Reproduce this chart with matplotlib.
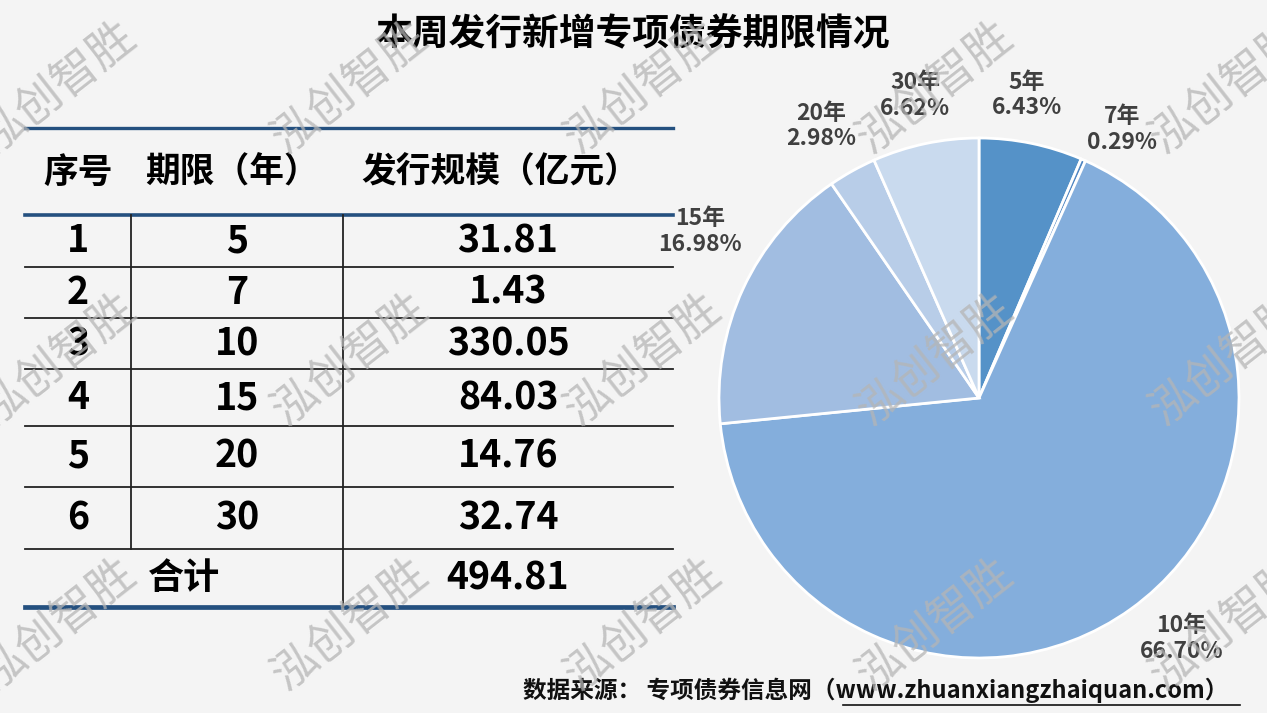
import numpy as np
import matplotlib.pyplot as plt

plt.rcParams['font.family'] = ['Noto Sans CJK SC', 'DejaVu Sans']

W, H = 1267, 713

# data
seq = ["1", "2", "3", "4", "5", "6"]
terms = [5, 7, 10, 15, 20, 30]
amounts = [31.81, 1.43, 330.05, 84.03, 14.76, 32.74]
total = 494.81
headers = ["序号", "期限（年）", "发行规模（亿元）"]
pie_colors = ['#5592C8', '#4F86C2', '#84AEDC', '#A1BDE1', '#B8CDE8', '#C9DAEE']

fig = plt.figure(figsize=(W / 100, H / 100), dpi=100)
fig.patch.set_facecolor('#F4F4F4')

# table drawn on a full-figure axes in pixel units
ax = fig.add_axes([0, 0, 1, 1])
ax.set_xlim(0, W)
ax.set_ylim(H, 0)
ax.axis('off')

x0, x1, x2, x3 = 25, 131, 343, 673
blue = '#24507F'
row_lines = [215, 267, 318, 369, 426, 487, 549, 607]

ax.plot([x0, x3], [128, 128], color=blue, lw=2.4)
ax.plot([x0, x3], [215, 215], color=blue, lw=2.6)
ax.plot([x0, x3], [607, 607], color=blue, lw=3.4)
for y in row_lines[1:-1]:
    ax.plot([x0, x3], [y, y], color='#222222', lw=1.3)
ax.plot([x1, x1], [215, 549], color='#222222', lw=1.3)
ax.plot([x2, x2], [215, 607], color='#222222', lw=1.3)

hdr_x = [78, 232, 500]
for hx, h in zip(hdr_x, headers):
    ax.text(hx, 172, h, ha='center', va='center', fontsize=25,
            fontweight='bold', color='black')

col_x = [78, 237, 508]
fs = 27
for i in range(len(seq)):
    yc = (row_lines[i] + row_lines[i + 1]) / 2
    ax.text(col_x[0], yc, seq[i], ha='center', va='center', fontsize=fs,
            fontweight='bold')
    ax.text(col_x[1], yc, str(terms[i]), ha='center', va='center', fontsize=fs,
            fontweight='bold')
    ax.text(col_x[2], yc, f"{amounts[i]:.2f}", ha='center', va='center',
            fontsize=fs, fontweight='bold')
yc = (row_lines[-2] + row_lines[-1]) / 2
ax.text(184, yc, "合计", ha='center', va='center', fontsize=fs - 1, fontweight='bold')
ax.text(col_x[2], yc, f"{total:.2f}", ha='center', va='center', fontsize=fs,
        fontweight='bold')

# title
ax.text(632, 35, "本周发行新增专项债券期限情况", ha='center', va='center',
        fontsize=26.5, fontweight='bold', color='black')

# source
ax.text(1228, 690, "数据来源： 专项债券信息网（www.zhuanxiangzhaiquan.com）",
        ha='right', va='center', fontsize=17, fontweight='bold', color='#111111')
ax.plot([843, 1240], [705, 705], color='#111111', lw=1.2)

# pie
cx, cy, r = 979, 398, 260
pax = fig.add_axes([(cx - r) / W, (H - cy - r) / H, 2 * r / W, 2 * r / H])
pct = [a / sum(amounts) * 100 for a in amounts]
labels = [f"{t}年\n{p:.2f}%" for t, p in zip(terms, pct)]
wedges, texts = pax.pie(amounts, colors=pie_colors, startangle=90,
                        counterclock=False, labels=labels, labeldistance=1.19,
                        wedgeprops=dict(edgecolor='white', linewidth=2),
                        textprops=dict(fontsize=16.5, fontweight='bold',
                                       color='#404040', linespacing=1.15))
# label placement tweaks (distance, angle shift in degrees)
lab_dist = [1.18, 1.17, 1.21, 1.25, 1.21, 1.19]
lab_shift = [2.6, -4.3, 4.3, -6.0, 1.0, 0.0]
for w, t, d, s in zip(wedges, texts, lab_dist, lab_shift):
    ang = np.deg2rad((w.theta1 + w.theta2) / 2 + s)
    t.set_position((d * np.cos(ang), d * np.sin(ang)))
    t.set_horizontalalignment('center')
    t.set_verticalalignment('center')
pax.set_xlim(-1, 1)
pax.set_ylim(-1, 1)
pax.set_aspect('equal')
pax.axis('off')

# watermark
for wy in [88, 360, 625]:
    for wx in [58, 350, 643, 935, 1228]:
        fig.text(wx / W, 1 - wy / H, "泓创智胜", ha='center', va='center',
                 fontsize=33, rotation=38, color='#B5B5B5', alpha=0.75,
                 zorder=10)

fig.savefig('out.png', dpi=100, facecolor=fig.get_facecolor())
